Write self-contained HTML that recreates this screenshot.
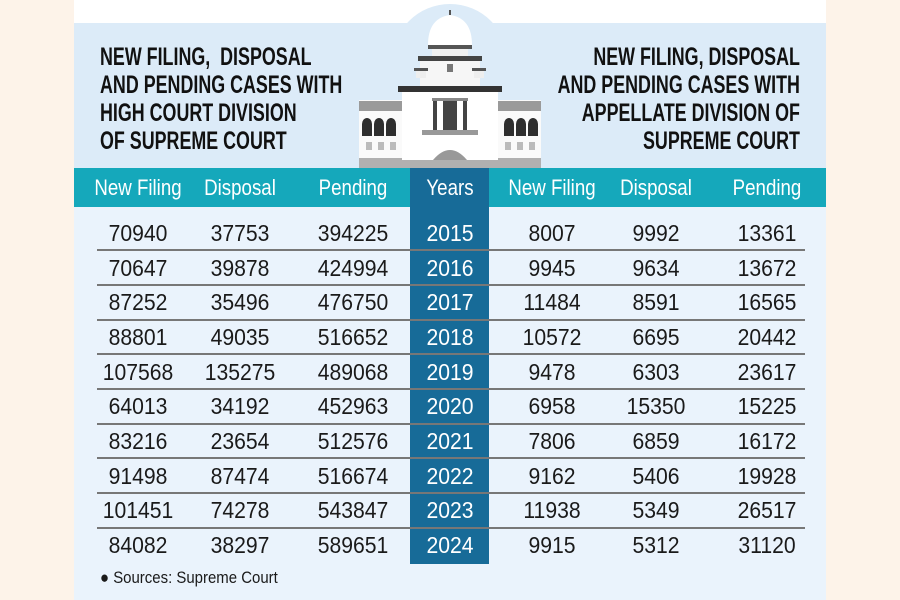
<!DOCTYPE html>
<html><head><meta charset="utf-8"><style>
body{margin:0;width:900px;height:600px;position:relative;overflow:hidden;background:#fdf3e9;font-family:"Liberation Sans Narrow","Liberation Sans",sans-serif;}
#panel{position:absolute;left:74px;top:0;width:752px;height:600px;background:#fff;}
#head{position:absolute;left:74px;top:23px;width:752px;height:145px;background:#dcebf8;}
#body{position:absolute;left:74px;top:168px;width:752px;height:432px;background:#eaf3fc;}
.t{position:absolute;font-weight:bold;font-size:25px;line-height:28px;color:#111;white-space:nowrap}
.tl{transform:scaleX(0.715);transform-origin:0 0}
.tr{transform:scaleX(0.715);transform-origin:100% 0;text-align:right}
#thr{position:absolute;left:74px;top:168px;width:752px;height:39px;background:#15a8bb;}
#yc{position:absolute;left:410px;top:168px;width:79px;height:396px;background:#176b98;}
.h{position:absolute;top:168px;height:39px;line-height:39px;color:#fff;font-size:22px;text-align:center;width:120px;margin-left:-60px;transform:scaleX(0.85)}
.row{position:absolute;left:0;width:900px;height:34px}
.c{position:absolute;top:0;width:120px;margin-left:-60px;text-align:center;font-size:23px;line-height:34px;color:#1a1a1a;transform:scaleX(0.92)}
.y{color:#fff}
.ln{position:absolute;left:97px;width:708px;height:2px;background:#777}
</style></head><body>
<div id="panel"></div>
<div id="head"></div>
<div id="body"></div>
<svg style="position:absolute;left:0;top:0" width="900" height="168">
<circle cx="450" cy="62" r="58" fill="#dcebf8"/>
<rect x="359" y="100" width="182" height="68" fill="#fafafa"/>
<rect x="359" y="101" width="182" height="10" fill="#9a9a9a"/>
<g fill="#2e2e2e">
<path d="M362 136v-12a5 6 0 0 1 10 0v12z"/><path d="M374 136v-12a5 6 0 0 1 10 0v12z"/><path d="M386 136v-12a5 6 0 0 1 10 0v12z"/>
<path d="M504 136v-12a5 6 0 0 1 10 0v12z"/><path d="M516 136v-12a5 6 0 0 1 10 0v12z"/><path d="M528 136v-12a5 6 0 0 1 10 0v12z"/></g>
<g fill="#bbb"><rect x="366" y="142" width="6" height="8"/><rect x="378" y="142" width="6" height="8"/><rect x="390" y="142" width="6" height="8"/>
<rect x="505" y="142" width="6" height="8"/><rect x="517" y="142" width="6" height="8"/><rect x="529" y="142" width="6" height="8"/></g>
<rect x="359" y="158" width="182" height="10" fill="#b0b0b0"/>
<rect x="402" y="88" width="96" height="80" fill="#fff"/>
<rect x="398" y="86" width="104" height="6" fill="#333"/>
<rect x="432" y="98" width="36" height="3" fill="#888"/>
<rect x="433" y="101" width="4" height="30" fill="#444"/><rect x="443" y="101" width="14" height="30" fill="#444"/><rect x="463" y="101" width="4" height="30" fill="#444"/>
<rect x="422" y="130" width="56" height="5" fill="#999"/>
<path d="M433 160 Q450 140 467 160Z" fill="#999"/>
<rect x="402" y="160" width="96" height="8" fill="#b0b0b0"/>
<rect x="420" y="58" width="60" height="28" fill="#f6f6f6"/>
<rect x="418" y="56" width="64" height="5" fill="#444"/>
<rect x="447" y="64" width="6" height="8" fill="#777"/>
<rect x="416" y="68" width="10" height="10" fill="#eee"/><rect x="474" y="68" width="10" height="10" fill="#eee"/>
<rect x="414" y="68" width="14" height="3" fill="#555"/><rect x="472" y="68" width="14" height="3" fill="#555"/>
<path d="M428 45 Q428 18 450 15 Q472 18 472 45Z" fill="#fff"/>
<rect x="428" y="45" width="44" height="4" fill="#555"/>
<rect x="432" y="49" width="36" height="7" fill="#f0f0f0"/>
<rect x="449" y="10" width="2" height="5" fill="#555"/>
</svg>
<div class="t tl" style="left:100px;top:43px">NEW FILING,&nbsp; DISPOSAL<br>AND PENDING CASES WITH<br>HIGH COURT DIVISION<br>OF SUPREME COURT</div>
<div class="t tr" style="right:100px;top:43px">NEW FILING, DISPOSAL<br>AND PENDING CASES WITH<br>APPELLATE DIVISION OF<br>SUPREME COURT</div>
<div id="thr"></div><div id="yc"></div>
<div class="h" style="left:138px">New Filing</div><div class="h" style="left:240px">Disposal</div><div class="h" style="left:353px">Pending</div>
<div class="h" style="left:450px">Years</div><div class="h" style="left:552px">New Filing</div><div class="h" style="left:656px">Disposal</div><div class="h" style="left:767px">Pending</div>
<div id="rows"></div>
<div style="position:absolute;left:100px;top:568px;font-size:17px;color:#1a1a1a;transform:scaleX(0.88);transform-origin:0 0">● Sources: Supreme Court</div>
<script>
var d=[[70940,37753,394225,2015,8007,9992,13361],[70647,39878,424994,2016,9945,9634,13672],[87252,35496,476750,2017,11484,8591,16565],[88801,49035,516652,2018,10572,6695,20442],[107568,135275,489068,2019,9478,6303,23617],[64013,34192,452963,2020,6958,15350,15225],[83216,23654,512576,2021,7806,6859,16172],[91498,87474,516674,2022,9162,5406,19928],[101451,74278,543847,2023,11938,5349,26517],[84082,38297,589651,2024,9915,5312,31120]];
var xs=[138,240,353,450,552,656,767],h='';
d.forEach(function(r,i){var top=216+i*34.67;
if(i>0)h+='<div class="ln" style="top:'+(top-1.5)+'px"></div>';
h+='<div class="row" style="top:'+top+'px">';
r.forEach(function(v,j){h+='<div class="c'+(j==3?' y':'')+'" style="left:'+xs[j]+'px">'+v+'</div>';});
h+='</div>';});
document.getElementById('rows').innerHTML=h;
</script>
</body></html>
